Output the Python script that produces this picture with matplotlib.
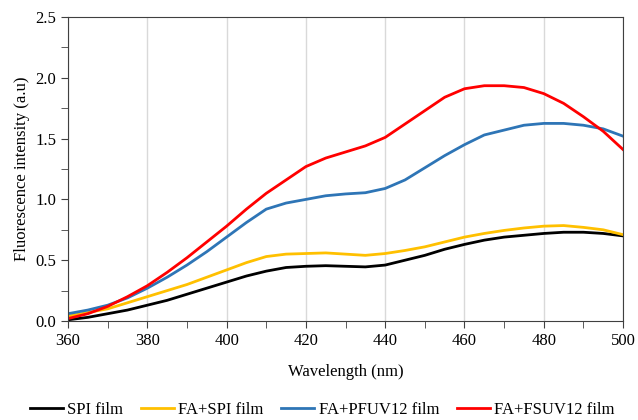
import matplotlib.pyplot as plt
from matplotlib.ticker import MultipleLocator

# Wavelength (nm) and fluorescence readings for each film
wavelength = [360, 365, 370, 375, 380, 385, 390, 395, 400, 405, 410, 415, 420, 425,
              430, 435, 440, 445, 450, 455, 460, 465, 470, 475, 480, 485, 490, 495, 500]
spi = [0.01, 0.03, 0.06, 0.09, 0.13, 0.17, 0.22, 0.27, 0.32, 0.37, 0.41, 0.44, 0.45, 0.455,
       0.45, 0.445, 0.46, 0.50, 0.54, 0.59, 0.63, 0.665, 0.69, 0.705, 0.72, 0.73, 0.73, 0.72, 0.70]
fa_spi = [0.04, 0.07, 0.10, 0.15, 0.20, 0.25, 0.30, 0.36, 0.42, 0.48, 0.53, 0.55, 0.555, 0.56,
          0.55, 0.54, 0.555, 0.58, 0.61, 0.65, 0.69, 0.72, 0.745, 0.765, 0.78, 0.785, 0.77, 0.75, 0.71]
fa_pfuv12 = [0.06, 0.09, 0.13, 0.19, 0.27, 0.36, 0.46, 0.57, 0.69, 0.81, 0.92, 0.97, 1.00, 1.03,
             1.045, 1.055, 1.09, 1.16, 1.26, 1.36, 1.45, 1.53, 1.57, 1.61, 1.625, 1.625, 1.61, 1.58, 1.52]
fa_fsuv12 = [0.02, 0.06, 0.12, 0.20, 0.29, 0.40, 0.52, 0.65, 0.78, 0.92, 1.05, 1.16, 1.27, 1.34,
             1.39, 1.44, 1.51, 1.62, 1.73, 1.84, 1.91, 1.935, 1.935, 1.92, 1.87, 1.79, 1.68, 1.56, 1.41]

labels = ['SPI film', 'FA+SPI film', 'FA+PFUV12 film', 'FA+FSUV12 film']
colors = ['#000000', '#FFC000', '#2E75B6', '#FF0000']

plt.rcParams['font.family'] = ['Liberation Serif', 'DejaVu Serif']

fig = plt.figure(figsize=(6.38, 4.2), dpi=100)
ax = fig.add_axes([0.1066, 0.2357, 0.87, 0.7238])

for series, label, color in zip([spi, fa_spi, fa_pfuv12, fa_fsuv12], labels, colors):
    ax.plot(wavelength, series, color=color, linewidth=2.0, label=label)

ax.set_xlim(360, 500)
ax.set_ylim(0, 2.5)
ax.xaxis.set_major_locator(MultipleLocator(20))
ax.xaxis.set_minor_locator(MultipleLocator(10))
ax.yaxis.set_major_locator(MultipleLocator(0.5))
ax.yaxis.set_minor_locator(MultipleLocator(0.25))
ax.yaxis.set_major_formatter(plt.FormatStrFormatter('%.1f'))
ax.tick_params(which='both', direction='out', labelsize=12, color='#404040')
ax.tick_params(which='major', length=5)
ax.tick_params(which='minor', length=5)
ax.grid(axis='x', color='#D9D9D9', linewidth=1.0)
ax.set_axisbelow(True)
for s in ax.spines.values():
    s.set_color('#404040')

ax.set_xlabel('Wavelength (nm)', fontsize=12, labelpad=11)
ax.set_ylabel('Fluorescence intensity (a.u)', fontsize=12)

fig.legend(loc='lower center', bbox_to_anchor=(0.505, -0.03), ncol=4, frameon=False,
           fontsize=12, handlelength=2.0, columnspacing=1.05, handletextpad=0.25)

fig.savefig('out.png', dpi=100)
